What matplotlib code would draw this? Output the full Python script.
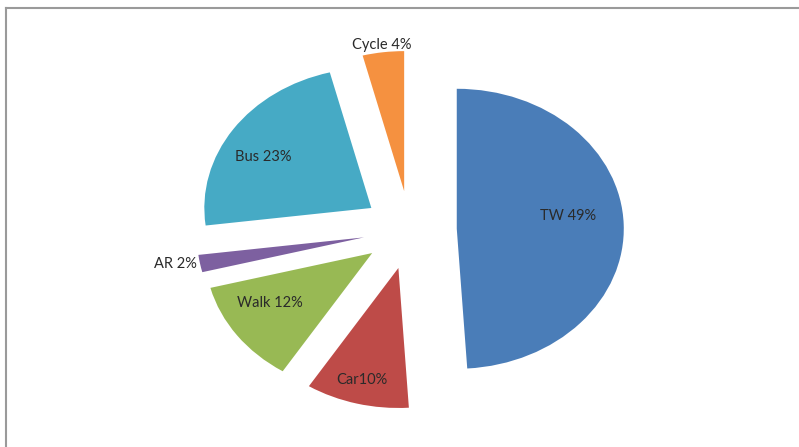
import numpy as np
import matplotlib
matplotlib.use("Agg")
import matplotlib.pyplot as plt
from matplotlib.lines import Line2D

# Travel mode share
modes = ['TW', 'Car', 'Walk', 'AR', 'Bus', 'Cycle']
shares = [49, 10, 12, 2, 23, 4]
label_texts = ['TW 49%', 'Car10%', 'Walk 12%', 'AR 2%', 'Bus 23%', 'Cycle 4%']
colors = ['#4A7DB8', '#BE4B48', '#98B954', '#7D60A0', '#46AAC5', '#F59140']
label_dist = [0.67, 0.83, 0.71, 1.02, 0.74, 1.05]
label_turn = [6, -1, -5.5, 0, 5, 0]

plt.rcParams['font.family'] = ['Lato', 'DejaVu Sans']

fig = plt.figure(figsize=(7.99, 4.47), dpi=100)
ax = fig.add_axes([0, 0, 1, 1])

wedges, _ = ax.pie(shares, colors=colors, startangle=90, counterclock=False,
                   explode=[0.28] * len(shares), radius=1.0)

# stretched pie like the original (wider than tall)
ax.set_aspect('auto')
ax.set_xlim(-2.455, 2.329)
ax.set_ylim(-1.55, 1.643)
ax.axis('off')

# labels placed from each wedge's own geometry
for w, txt, d, t in zip(wedges, label_texts, label_dist, label_turn):
    mid = np.deg2rad((w.theta1 + w.theta2) / 2 + t)
    cx, cy = w.center
    x = cx + d * np.cos(mid)
    y = cy + d * np.sin(mid)
    ha = 'center'
    if d > 1.0 and abs(np.cos(mid)) > 0.7:
        ha = 'right' if np.cos(mid) < 0 else 'left'
    ax.text(x, y, txt, ha=ha, va='center', fontsize=10.5, color='#2a2a2a')

# chart area border (top and left visible)
fig.add_artist(Line2D([6 / 799, 1], [1 - 8 / 447, 1 - 8 / 447],
                      transform=fig.transFigure, color='#9a9a9a', lw=1.5))
fig.add_artist(Line2D([6 / 799, 6 / 799], [0, 1 - 8 / 447],
                      transform=fig.transFigure, color='#9a9a9a', lw=1.5))

fig.savefig('out.png', dpi=100)
